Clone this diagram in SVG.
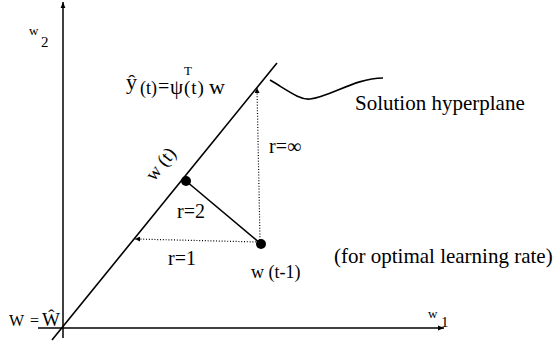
<svg xmlns="http://www.w3.org/2000/svg" width="556" height="343" viewBox="0 0 556 343">
<defs>
<style>
text{font-family:"Liberation Serif","Times New Roman",serif;fill:#000}
.ax{stroke:#000;stroke-width:1.5;fill:none}
.ln{stroke:#000;stroke-width:1.6;fill:none}
.dt{stroke:#000;stroke-width:1.2;fill:none;stroke-dasharray:1 1.8}
.dot{fill:#000}
</style>
<marker id="ah" viewBox="0 0 10 10" refX="10" refY="5" markerWidth="10" markerHeight="6" markerUnits="userSpaceOnUse" orient="auto">
<path d="M0,1 L10,5 L0,9 z" fill="#000"/>
</marker>
<marker id="ahs" viewBox="0 0 10 10" refX="10" refY="5" markerWidth="7" markerHeight="5" markerUnits="userSpaceOnUse" orient="auto">
<path d="M0,0 L10,5 L0,10 z" fill="#000"/>
</marker>
</defs>
<rect width="556" height="343" fill="#fff"/>

<g id="connectors">
<line class="ax" x1="63" y1="338" x2="63" y2="2" marker-end="url(#ah)"/>
<line class="ax" x1="38" y1="328" x2="444" y2="328" marker-end="url(#ah)"/>
<line id="hyperplane" class="ln" x1="52" y1="340" x2="277" y2="63"/>
<path class="ln" d="M270,80 C290,92 300,100 310,99 C330,97 355,78 383,78"/>
<line class="ln" x1="186" y1="181" x2="261" y2="244"/>
<line class="dt" x1="259" y1="242" x2="135" y2="239" marker-end="url(#ahs)"/>
<line class="dt" x1="260" y1="240" x2="257" y2="88" marker-end="url(#ahs)"/>
</g>

<g id="node-wt">
<circle class="dot" cx="186" cy="181" r="5"/>
<text transform="translate(154,182) rotate(-51)" font-size="19">w (t)</text>
</g>
<g id="node-wt1">
<circle class="dot" cx="261" cy="244" r="5"/>
<text x="251" y="278" font-size="18">w (t-1)</text>
</g>

<g id="label-w2">
<text x="29" y="35" font-size="13">w<tspan x="41" y="47" font-size="15">2</tspan></text>
</g>
<g id="label-w1">
<text x="428" y="318" font-size="13">w<tspan x="441" y="327" font-size="15">1</tspan></text>
</g>
<g id="label-origin">
<text x="9" y="326" font-size="16">W<tspan x="30" y="326">=</tspan><tspan x="42" y="326" font-size="19">Ŵ</tspan></text>
</g>
<g id="label-equation">
<text font-size="20"><tspan x="126" y="89" font-size="22">ŷ</tspan><tspan x="140" y="94" font-size="18">(t)</tspan><tspan x="158" y="93" font-size="20">=</tspan><tspan x="170" y="94" font-size="21">ψ</tspan><tspan x="184" y="75" font-size="13">T</tspan><tspan x="184" y="94" font-size="19" letter-spacing="1">(t)</tspan><tspan x="209" y="94" font-size="22">w</tspan></text>
</g>
<g id="label-solution">
<text x="355" y="110" font-size="21">Solution hyperplane</text>
</g>
<g id="label-rinf"><text x="269" y="153" font-size="20">r=∞</text></g>
<g id="label-r2"><text x="177" y="218" font-size="20">r=2</text></g>
<g id="label-r1"><text x="168" y="265" font-size="20">r=1</text></g>
<g id="label-optimal"><text x="334" y="263" font-size="21">(for optimal learning rate)</text></g>
</svg>
